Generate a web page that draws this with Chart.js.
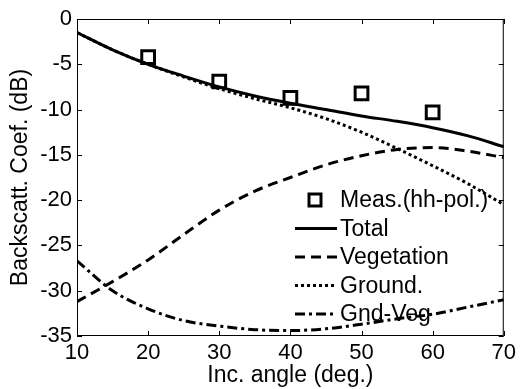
<!DOCTYPE html>
<html>
<head>
<meta charset="utf-8">
<script src="https://cdn.jsdelivr.net/npm/chart.js@4.4.1/dist/chart.umd.min.js"></script>
<style>
  html, body { margin: 0; padding: 0; background: #fff; }
  #wrap { width: 520px; height: 389px; }
</style>
</head>
<body>
<div id="wrap"><canvas id="chartBackscatt"></canvas></div>
<script>
'use strict';

// incidence angles (deg.)
var angles = [10, 15, 20, 25, 30, 35, 40, 45, 50, 55, 60, 65, 70];
var measAngles = [20, 30, 40, 50, 60];

// backscattering coefficient (dB)
var measHH     = [-4.2, -6.9, -8.7, -8.2, -10.3];
var total      = [-1.5, -3.4, -5.0, -6.3, -7.5, -8.5, -9.3, -10.0, -10.7, -11.3, -12.0, -12.9, -14.1];
var vegetation = [-31.2, -29.0, -26.6, -23.8, -21.1, -19.0, -17.5, -16.1, -15.1, -14.4, -14.2, -14.6, -15.3];
var ground     = [-1.5, -3.4, -5.0, -6.4, -7.7, -8.8, -9.8, -11.0, -12.5, -14.3, -16.2, -18.2, -20.5];
var gndVeg     = [-26.7, -30.0, -32.0, -33.3, -33.9, -34.3, -34.4, -34.2, -33.7, -33.1, -32.6, -31.8, -31.0];

var xTicks = [10, 20, 30, 40, 50, 60, 70];
var yTicks = [0, -5, -10, -15, -20, -25, -30, -35];

var FONT = '"Liberation Sans", Arial, sans-serif';

function pts(xs, ys) {
  return xs.map(function(x, i) { return {x: x, y: ys[i]}; });
}

function curve(label, ys, dash) {
  return {
    label: label,
    data: pts(angles, ys),
    borderColor: '#000',
    borderWidth: 3,
    borderDash: dash,
    pointRadius: 0,
    showLine: true,
    fill: false,
    tension: 0.4,
    cubicInterpolationMode: 'monotone'
  };
}

// box, inward ticks and in-plot legend
var frame = {
  id: 'frame',
  afterDraw: function(chart) {
    var ctx = chart.ctx, a = chart.chartArea;
    var xs = chart.scales.x, ys = chart.scales.y;
    ctx.save();
    ctx.strokeStyle = '#000';
    ctx.lineWidth = 1;
    ctx.strokeRect(a.left + 0.5, a.top + 0.5, a.right - a.left - 1, a.bottom - a.top - 1);
    ctx.beginPath();
    xTicks.forEach(function(v) {
      var px = Math.round(xs.getPixelForValue(v)) + 0.5;
      ctx.moveTo(px, a.bottom); ctx.lineTo(px, a.bottom - 5);
      ctx.moveTo(px, a.top); ctx.lineTo(px, a.top + 5);
    });
    yTicks.forEach(function(v) {
      var py = Math.round(ys.getPixelForValue(v)) + 0.5;
      ctx.moveTo(a.left, py); ctx.lineTo(a.left + 5, py);
      ctx.moveTo(a.right, py); ctx.lineTo(a.right - 5, py);
    });
    ctx.stroke();

    // legend
    var x0 = 295, x1 = 337, tx = 340, y0 = 200, dy = 28.5;
    ctx.font = '23px ' + FONT;
    ctx.textBaseline = 'middle';
    ctx.fillStyle = '#000';
    chart.data.datasets.forEach(function(ds, i) {
      var y = y0 + i * dy;
      ctx.lineWidth = 3;
      if (ds.showLine) {
        ctx.setLineDash(ds.borderDash || []);
        ctx.beginPath();
        ctx.moveTo(x0, y); ctx.lineTo(x1, y);
        ctx.stroke();
        ctx.setLineDash([]);
      } else {
        ctx.strokeRect(309, y - 6, 12, 12);
      }
      ctx.fillText(ds.label, tx, y + 1);
    });
    ctx.restore();
  }
};

new Chart(document.getElementById('chartBackscatt'), {
  type: 'scatter',
  data: {
    datasets: [
      {
        label: 'Meas.(hh-pol.)',
        data: pts(measAngles, measHH),
        showLine: false,
        pointStyle: 'rect',
        pointRadius: 9,
        pointBorderWidth: 3,
        pointBorderColor: '#000',
        pointBackgroundColor: 'rgba(0,0,0,0)'
      },
      curve('Total', total, []),
      curve('Vegetation', vegetation, [10, 6]),
      curve('Ground.', ground, [3, 3]),
      curve('Gnd-Veg', gndVeg, [10, 4, 3, 4])
    ]
  },
  options: {
    responsive: true,
    maintainAspectRatio: false,
    animation: false,
    layout: { padding: { top: 19, right: 13, left: 0, bottom: 0 } },
    plugins: {
      legend: { display: false },
      tooltip: { enabled: false }
    },
    scales: {
      x: {
        type: 'linear',
        min: 10, max: 70,
        afterFit: function(s) { s.height = 53; },
        afterBuildTicks: function(s) { s.ticks = xTicks.map(function(v) { return {value: v}; }); },
        grid: { display: false, drawTicks: false },
        border: { display: false },
        ticks: { color: '#000', padding: 4, font: { family: FONT, size: 22 } },
        title: { display: true, text: 'Inc. angle (deg.)', color: '#000', padding: 0, font: { family: FONT, size: 23 } }
      },
      y: {
        type: 'linear',
        min: -35, max: 0,
        afterFit: function(s) { s.width = 77; },
        afterBuildTicks: function(s) { s.ticks = yTicks.map(function(v) { return {value: v}; }); },
        grid: { display: false, drawTicks: false },
        border: { display: false },
        ticks: { color: '#000', padding: 5, font: { family: FONT, size: 22 } },
        title: { display: true, text: 'Backscatt. Coef. (dB)', color: '#000', padding: 7, font: { family: FONT, size: 23 } }
      }
    }
  },
  plugins: [frame]
});
</script>
</body>
</html>
